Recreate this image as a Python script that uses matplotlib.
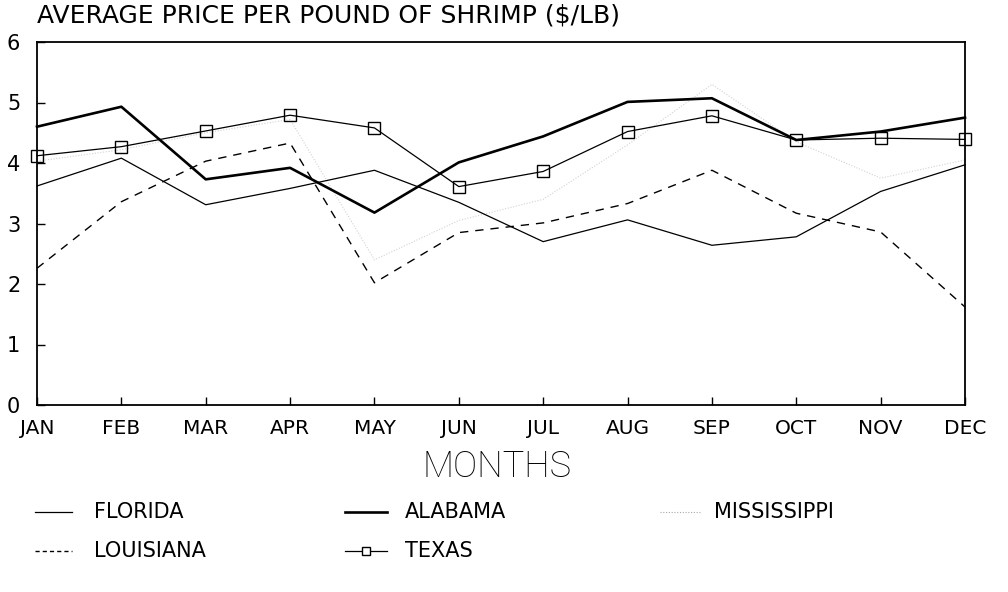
import matplotlib
matplotlib.use("Agg")
import matplotlib.pyplot as plt

months = ["JAN", "FEB", "MAR", "APR", "MAY", "JUN", "JUL", "AUG", "SEP", "OCT", "NOV", "DEC"]
florida = [3.62, 4.08, 3.31, 3.58, 3.88, 3.35, 2.70, 3.06, 2.64, 2.78, 3.53, 3.97]
alabama = [4.60, 4.93, 3.73, 3.92, 3.18, 4.01, 4.44, 5.01, 5.07, 4.38, 4.52, 4.75]
mississippi = [4.03, 4.22, 4.50, 4.72, 2.40, 3.05, 3.40, 4.30, 5.30, 4.35, 3.75, 4.05]
louisiana = [2.26, 3.36, 4.03, 4.33, 2.02, 2.85, 3.01, 3.33, 3.88, 3.17, 2.86, 1.62]
texas = [4.12, 4.27, 4.53, 4.79, 4.58, 3.61, 3.86, 4.52, 4.78, 4.38, 4.41, 4.39]
yticks = [0, 1, 2, 3, 4, 5, 6]

title = "AVERAGE PRICE PER POUND OF SHRIMP ($/LB)"
xlabel = "MONTHS"

FONT = ["DejaVu Sans"]
plt.rcParams["font.family"] = FONT

W, H = 1008, 592
fig = plt.figure(figsize=(W / 100, H / 100), dpi=100)
fig.patch.set_facecolor("white")

def fx(px):
    return px / W

def fy(py):
    return 1 - py / H

ax = fig.add_axes([fx(37), fy(405), fx(965) - fx(37), fy(42) - fy(405)])
x = list(range(len(months)))

styles = {
    "FLORIDA": dict(color="black", lw=0.9, ls="-"),
    "ALABAMA": dict(color="black", lw=1.9, ls="-"),
    "MISSISSIPPI": dict(color="#d2d2d2", lw=0.8, ls=(0, (1, 1.5))),
    "LOUISIANA": dict(color="black", lw=1.0, ls=(0, (6, 5))),
    "TEXAS": dict(color="black", lw=0.9, ls="-", marker="s", markersize=8,
                  markerfacecolor="none", markeredgecolor="black", markeredgewidth=1.0),
}
series = {
    "FLORIDA": florida,
    "ALABAMA": alabama,
    "MISSISSIPPI": mississippi,
    "LOUISIANA": louisiana,
    "TEXAS": texas,
}
order = ["MISSISSIPPI", "LOUISIANA", "FLORIDA", "TEXAS", "ALABAMA"]
for name in order:
    ax.plot(x, series[name], clip_on=False, **styles[name])

ax.set_xlim(0, len(months) - 1)
ax.set_ylim(0, 6)
ax.set_xticks(x)
ax.set_xticklabels(months, fontsize=14.5)
ax.set_yticks(yticks)
ax.set_yticklabels([str(v) for v in yticks], fontsize=15)
ax.tick_params(axis="both", direction="in", length=6, width=1.0, color="black")
ax.tick_params(axis="x", pad=10)
ax.tick_params(axis="y", pad=12)
for s in ax.spines.values():
    s.set_linewidth(1.3)
    s.set_color("black")

fig.text(fx(37), fy(16), title, ha="left", va="center", fontsize=18)
fig.text(fx(497), fy(467), xlabel, ha="center", va="center", fontsize=26,
         family=["Roboto", "DejaVu Sans"], fontweight="light")

# legend drawn in a pixel-coordinate overlay
lax = fig.add_axes([0, 0, 1, 1], facecolor="none")
lax.set_xlim(0, W)
lax.set_ylim(H, 0)
lax.axis("off")
legend_layout = [
    ("FLORIDA", 35, 72, 94, 512),
    ("LOUISIANA", 35, 72, 94, 551),
    ("ALABAMA", 345, 387, 405, 512),
    ("TEXAS", 345, 387, 405, 551),
    ("MISSISSIPPI", 660, 700, 714, 512),
]
for name, x0, x1, tx, ty in legend_layout:
    st = dict(styles[name])
    if "marker" in st:
        for k in ("marker", "markersize", "markerfacecolor", "markeredgecolor", "markeredgewidth"):
            st.pop(k)
        lax.plot([x0, x1], [ty, ty], **st)
        lax.plot([(x0 + x1) / 2], [ty], marker="s", markersize=6, markerfacecolor="white",
                 markeredgecolor="black", markeredgewidth=1.0, ls="none")
    else:
        if name == "MISSISSIPPI":
            st["color"] = "#aaaaaa"
        if name == "LOUISIANA":
            st["ls"] = (0, (3, 2.2))
        lax.plot([x0, x1], [ty, ty], **st)
    lax.text(tx, ty, name, ha="left", va="center", fontsize=15)

fig.savefig("out.png", dpi=100, facecolor="white")
